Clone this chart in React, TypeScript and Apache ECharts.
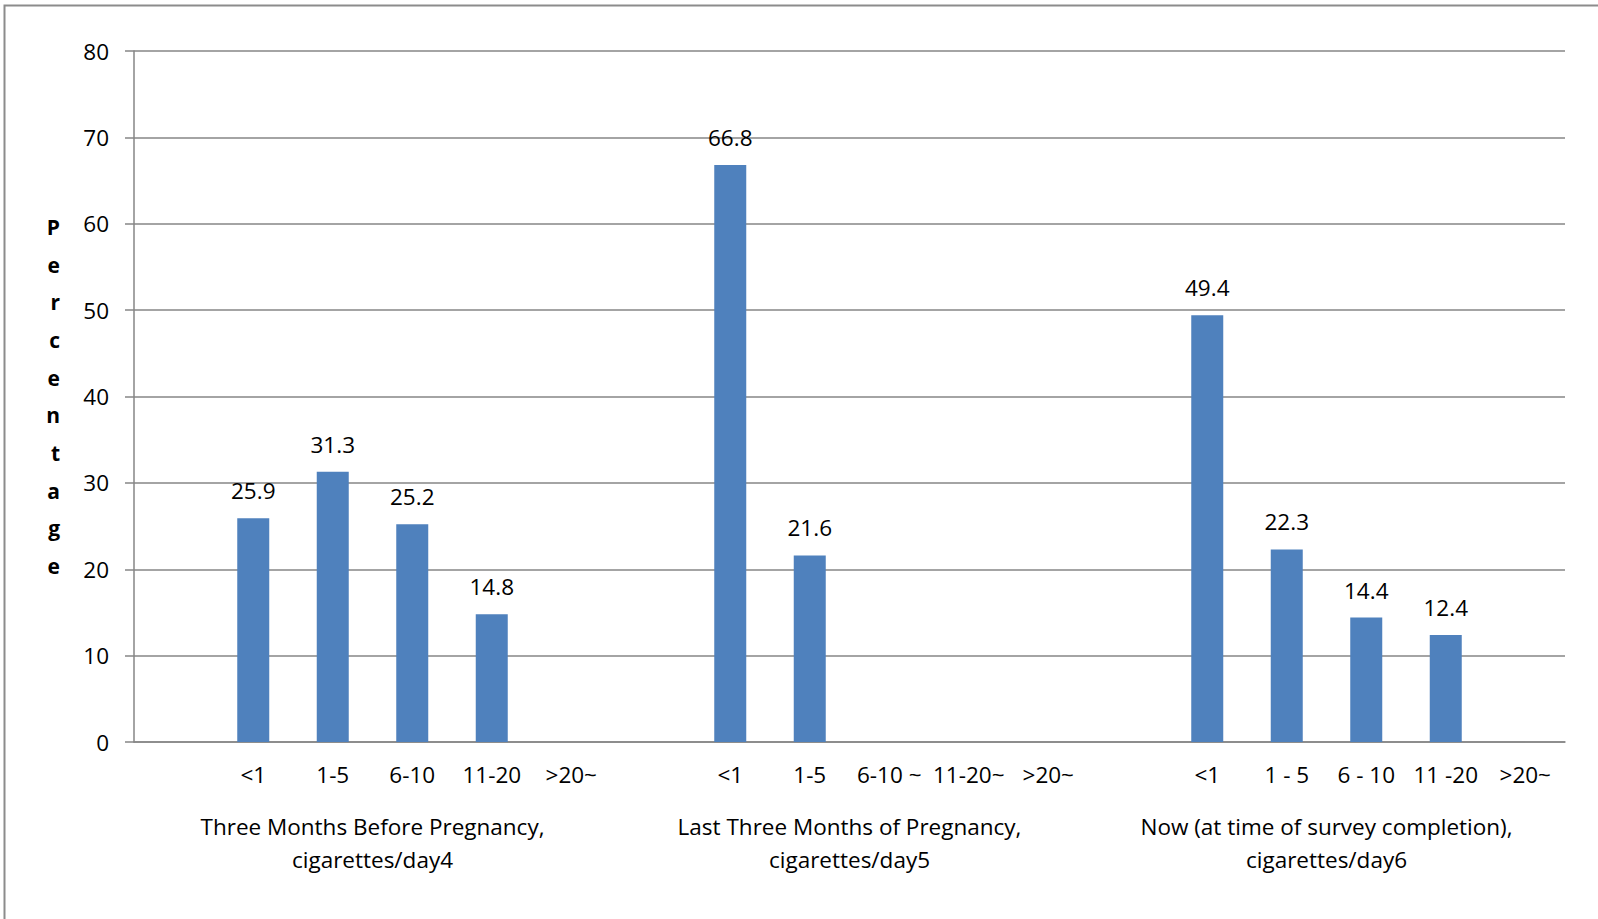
import React, { useEffect, useRef } from "react";
import * as echarts from "echarts";

const categories = ["", "<1", "1-5", "6-10", "11-20", ">20~", "", "<1", "1-5", "6-10 ~", "11-20~", ">20~", "", "<1", "1 - 5", "6 - 10", "11 -20", ">20~"];
const values: (number | null)[] = [null, 25.9, 31.3, 25.2, 14.8, null, null, 66.8, 21.6, null, null, null, null, 49.4, 22.3, 14.4, 12.4, null];
const groups = [
  "Three Months Before Pregnancy,\ncigarettes/day4",
  "Last Three Months of Pregnancy,\ncigarettes/day5",
  "Now (at time of survey completion),\ncigarettes/day6",
];
const yTitle = "Percentage";

const FONT = "Open Sans";
const FS = 22.5;

export default function App() {
  const ref = useRef<HTMLDivElement>(null);
  useEffect(() => {
    if (!ref.current) return;
    const chart = echarts.init(ref.current, null, { renderer: "svg" });
    chart.setOption({
      animation: false,
      textStyle: { fontFamily: FONT, color: "#000" },
      graphic: [
        {
          type: "rect",
          shape: { x: 4.5, y: 5.5, width: 1600, height: 920 },
          style: { fill: "none", stroke: "#8c8c8c", lineWidth: 2 },
          silent: true,
        },
      ],
      grid: { left: 134, right: 33, top: 51, bottom: 177 },
      xAxis: [
        {
          type: "category",
          data: categories,
          position: "bottom",
          axisLine: { lineStyle: { color: "#868686", width: 1.5 } },
          axisTick: { show: false },
          axisLabel: { interval: 0, margin: 21, fontSize: FS, color: "#000", fontFamily: FONT },
        },
        {
          type: "category",
          data: groups,
          position: "bottom",
          axisLine: { show: false },
          axisTick: { show: false },
          axisLabel: { interval: 0, margin: 68, fontSize: FS, lineHeight: 33, color: "#000", fontFamily: FONT },
        },
      ],
      yAxis: {
        type: "value",
        min: 0,
        max: 80,
        interval: 10,
        name: yTitle.split("").join("\n"),
        nameLocation: "middle",
        nameRotate: 0,
        nameGap: 74,
        nameTextStyle: { fontSize: 21, fontWeight: "bold", lineHeight: 37.7, color: "#000", fontFamily: FONT, padding: [6, 0, 0, 0] },
        axisLine: { show: true, lineStyle: { color: "#868686", width: 1.5 } },
        axisTick: { show: true, length: 9, lineStyle: { color: "#868686", width: 1.5 } },
        axisLabel: { margin: 25, fontSize: FS, color: "#000", fontFamily: FONT },
        splitLine: { lineStyle: { color: "#868686", width: 1.5 } },
      },
      series: [
        {
          type: "bar",
          data: values,
          barWidth: 32,
          itemStyle: { color: "#4F81BD" },
          label: { show: true, position: "top", distance: 16, fontSize: FS, color: "#000", fontFamily: FONT },
        },
      ],
    });
    return () => chart.dispose();
  }, []);
  return <div ref={ref} style={{ position: "absolute", left: 0, top: 0, width: 1598, height: 919 }} />;
}
